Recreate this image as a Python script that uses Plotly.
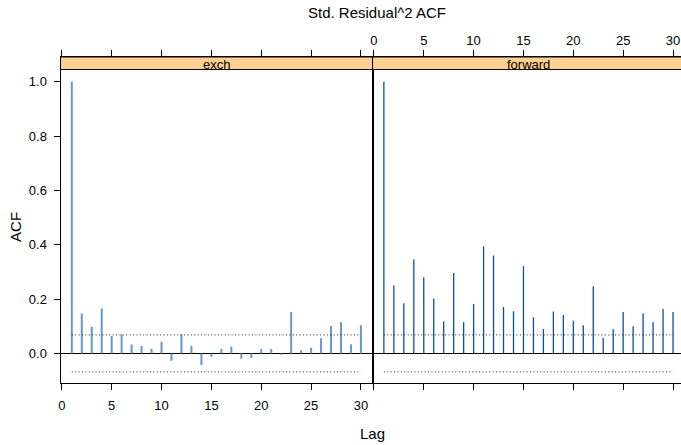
import plotly.graph_objects as go

# Canvas size in pixels
W, H = 681, 445

# ---- data -------------------------------------------------------------
lags = list(range(1, 31))
exch_acf = [1.000, 0.147, 0.098, 0.165, 0.064, 0.070, 0.033, 0.027, 0.016, 0.043,
            -0.027, 0.070, 0.028, -0.043, -0.012, 0.016, 0.024, -0.020, -0.016, 0.016,
            0.016, -0.005, 0.152, 0.012, 0.021, 0.056, 0.101, 0.115, 0.034, 0.104]
forward_acf = [1.000, 0.250, 0.185, 0.346, 0.280, 0.202, 0.117, 0.296, 0.115, 0.182,
               0.394, 0.360, 0.171, 0.155, 0.321, 0.133, 0.090, 0.154, 0.141, 0.120,
               0.104, 0.247, 0.057, 0.089, 0.152, 0.100, 0.148, 0.115, 0.163, 0.152]
ci_bound = 0.068
panel_names = ["exch", "forward"]
x_ticks = [0, 5, 10, 15, 20, 25, 30]
y_ticks = [0.0, 0.2, 0.4, 0.6, 0.8, 1.0]
y_tick_text = ["0.0", "0.2", "0.4", "0.6", "0.8", "1.0"]

FONT = "Liberation Sans, Arial, Helvetica, sans-serif"
STRIP_FILL = "#ffd08f"


def px_x(p):
    return p / W


def px_y(p):
    return 1 - p / H


def stems(x, y):
    xs, ys = [], []
    for a, b in zip(x, y):
        xs += [a, a, None]
        ys += [0, b, None]
    return xs, ys


# panel geometry (pixels)
left_x0, mid_x, right_x1 = 58.7, 371.7, 681.0
top_y, strip_bot, bot_y = 57.0, 69.5, 383.0

fig = go.Figure()

panel_series = [exch_acf, forward_acf]
stem_styles = [dict(color="#6a97c9", width=2), dict(color="#0d4e9d", width=1.3)]
axes = [("x", "y"), ("x2", "y2")]

for vals, style, (xa, ya) in zip(panel_series, stem_styles, axes):
    sx, sy = stems(lags, vals)
    fig.add_trace(go.Scatter(x=sx, y=sy, mode="lines", line=style,
                             xaxis=xa, yaxis=ya, hoverinfo="skip", showlegend=False))
    # approximate significance bounds
    fig.add_trace(go.Scatter(x=[lags[0], lags[-1], None, lags[0], lags[-1]],
                             y=[ci_bound, ci_bound, None, -ci_bound, -ci_bound],
                             mode="lines",
                             line=dict(color="#2a2a2a", width=1, dash="1px,2.4px"),
                             xaxis=xa, yaxis=ya, hoverinfo="skip", showlegend=False))

tick_font = dict(family=FONT, size=13, color="#000000")
common_x = dict(tickvals=x_ticks, ticks="outside", ticklen=6, tickcolor="#000000",
                showline=True, linecolor="#000000", linewidth=1, mirror="ticks",
                showgrid=False, zeroline=False, tickfont=tick_font)
y_dom = [px_y(bot_y), px_y(top_y)]
y_range = [-0.109, 1.091]

fig.update_layout(
    width=W, height=H,
    margin=dict(l=0, r=0, t=0, b=0),
    paper_bgcolor="white", plot_bgcolor="white",
    xaxis=dict(domain=[px_x(left_x0), px_x(mid_x)], range=[-0.13, 31.17],
               anchor="y", side="bottom", ticklabelstandoff=4, **common_x),
    xaxis2=dict(domain=[px_x(mid_x), 1.0], range=[-0.13, 30.8],
                anchor="y2", side="top", **common_x),
    yaxis=dict(domain=y_dom, range=y_range, anchor="x",
               tickvals=y_ticks, ticktext=y_tick_text, ticks="outside", ticklen=6,
               tickcolor="#000000", showline=True, linecolor="#000000", linewidth=1,
               mirror=True, showgrid=False, zeroline=True, zerolinecolor="#000000",
               zerolinewidth=1, tickfont=tick_font, ticklabelstandoff=4),
    yaxis2=dict(domain=y_dom, range=y_range, anchor="x2",
                showticklabels=False, ticks="", showline=True, linecolor="#000000",
                linewidth=1, showgrid=False, zeroline=True, zerolinecolor="#000000",
                zerolinewidth=1),
)

# strips with panel names
strip_spans = [(left_x0, mid_x), (mid_x, right_x1 + 5)]
for name, (a, b) in zip(panel_names, strip_spans):
    fig.add_shape(type="rect", xref="paper", yref="paper",
                  x0=px_x(a), x1=px_x(b), y0=px_y(strip_bot), y1=px_y(top_y),
                  fillcolor=STRIP_FILL, line=dict(color="#000000", width=1),
                  layer="above")
    fig.add_annotation(text=name, xref="paper", yref="paper",
                       x=px_x((a + min(b, right_x1 + 3)) / 2), y=px_y(64.5),
                       xanchor="center", yanchor="middle", showarrow=False,
                       font=dict(family=FONT, size=13, color="#000000"))

# titles
fig.add_annotation(text="Std. Residual^2 ACF", xref="paper", yref="paper",
                   x=px_x(376), y=px_y(12), xanchor="center", yanchor="middle",
                   showarrow=False, font=dict(family=FONT, size=15, color="#000000"))
fig.add_annotation(text="Lag", xref="paper", yref="paper",
                   x=px_x(372), y=px_y(433), xanchor="center", yanchor="middle",
                   showarrow=False, font=dict(family=FONT, size=15, color="#000000"))
fig.add_annotation(text="ACF", xref="paper", yref="paper", textangle=-90,
                   x=px_x(13), y=px_y(227), xanchor="center", yanchor="middle",
                   showarrow=False, font=dict(family=FONT, size=15, color="#000000"))

fig.write_html("out.html")
